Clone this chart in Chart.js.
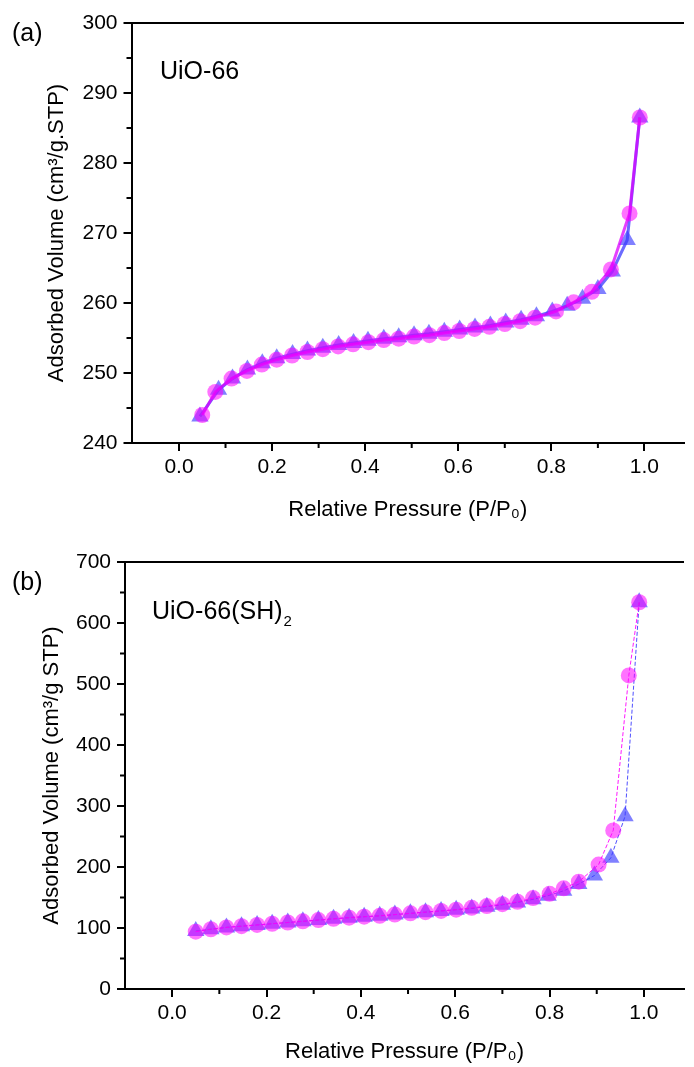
<!DOCTYPE html>
<html lang="en">
<head>
  <meta charset="UTF-8" />
  <title>N2 isotherms UiO-66</title>
  <script src="https://cdn.jsdelivr.net/npm/chart.js"></script>
  <style>
    body { margin: 0; background: #fff; }
    canvas { display: block; }
  </style>
</head>
<body>

<canvas id="chartA" width="694" height="530"></canvas>
<canvas id="chartB" width="694" height="537"></canvas>

<script>
  // (a) UiO-66 : adsorption (triangles) / desorption (circles)
  const adsPressureA = [0.045, 0.085, 0.115, 0.147, 0.179, 0.21, 0.244, 0.276, 0.309, 0.343, 0.375, 0.406, 0.44, 0.472, 0.505, 0.537, 0.57, 0.603, 0.636, 0.669, 0.702, 0.735, 0.768, 0.802, 0.834, 0.867, 0.9, 0.931, 0.963, 0.99];
  const adsVolumeA = [243.8, 247.6, 249.2, 250.5, 251.4, 252.1, 252.7, 253.2, 253.6, 254.0, 254.3, 254.6, 254.9, 255.1, 255.4, 255.6, 255.9, 256.2, 256.5, 256.8, 257.2, 257.6, 258.1, 258.8, 259.6, 260.6, 262.0, 264.5, 269.0, 286.5];
  const desPressureA = [0.05, 0.078, 0.113, 0.146, 0.178, 0.21, 0.243, 0.276, 0.309, 0.342, 0.374, 0.407, 0.44, 0.472, 0.505, 0.538, 0.57, 0.602, 0.635, 0.667, 0.7, 0.733, 0.765, 0.81, 0.848, 0.887, 0.928, 0.968, 0.99];
  const desVolumeA = [244.0, 247.3, 249.2, 250.3, 251.2, 251.9, 252.5, 253.0, 253.4, 253.8, 254.1, 254.4, 254.7, 254.9, 255.2, 255.4, 255.7, 256.0, 256.3, 256.6, 257.0, 257.4, 257.9, 258.8, 260.1, 261.6, 264.8, 272.8, 286.5];

  // (b) UiO-66(SH)2
  const adsPressureB = [0.05, 0.082, 0.115, 0.147, 0.18, 0.212, 0.245, 0.277, 0.31, 0.342, 0.375, 0.407, 0.44, 0.472, 0.505, 0.537, 0.57, 0.602, 0.635, 0.667, 0.7, 0.732, 0.765, 0.797, 0.83, 0.862, 0.895, 0.93, 0.96, 0.99];
  const adsVolumeB = [95, 98, 101, 103, 105, 107, 109, 111, 113, 115, 117, 118.5, 120, 122, 124, 126, 128, 130, 132, 135, 138, 142, 147, 153, 161, 172, 186, 215, 283, 634];
  const desPressureB = [0.05, 0.082, 0.115, 0.147, 0.18, 0.212, 0.245, 0.277, 0.31, 0.342, 0.375, 0.407, 0.44, 0.472, 0.505, 0.537, 0.57, 0.602, 0.635, 0.667, 0.7, 0.732, 0.765, 0.8, 0.83, 0.862, 0.904, 0.935, 0.968, 0.99];
  const desVolumeB = [94, 98, 101, 103, 105, 107, 109, 111, 113, 115, 117, 118.5, 120, 122, 124, 126, 128, 130, 133, 136, 139, 143, 149, 156, 165, 176, 204, 260, 514, 634];

  // tick labels
  const xTicks = [0, 0.2, 0.4, 0.6, 0.8, 1.0];
  const xMinor = [0.1, 0.3, 0.5, 0.7, 0.9];
  const yTicksA = [240, 250, 260, 270, 280, 290, 300];
  const yMinorA = [245, 255, 265, 275, 285, 295];
  const yTicksB = [0, 100, 200, 300, 400, 500, 600, 700];
  const yMinorB = [50, 150, 250, 350, 450, 550, 650];

  const FONT = '"Liberation Sans", Arial, sans-serif';

  function toPoints(xs, ys) {
    return xs.map((x, i) => ({ x: x, y: ys[i] }));
  }

  // minor ticks, top frame line and panel labels
  function framePlugin(minorX, minorY, drawLabels) {
    return {
      id: 'frame',
      afterDraw(chart) {
        const ctx = chart.ctx;
        const a = chart.chartArea;
        const xs = chart.scales.x;
        const ys = chart.scales.y;
        ctx.save();
        ctx.strokeStyle = '#000';
        ctx.lineWidth = 2;
        ctx.beginPath();
        ctx.moveTo(a.left - 1, a.top);
        ctx.lineTo(a.right, a.top);
        minorX.forEach(v => {
          const px = xs.getPixelForValue(v);
          ctx.moveTo(px, a.bottom);
          ctx.lineTo(px, a.bottom + 5);
        });
        minorY.forEach(v => {
          const py = ys.getPixelForValue(v);
          ctx.moveTo(a.left, py);
          ctx.lineTo(a.left - 5, py);
        });
        ctx.stroke();
        ctx.fillStyle = '#000';
        ctx.textBaseline = 'alphabetic';
        drawLabels(ctx);
        ctx.restore();
      }
    };
  }

  function makeChart(id, cfg) {
    const ctx = document.getElementById(id).getContext('2d');
    return new Chart(ctx, {
      type: 'scatter',
      data: {
        datasets: [
          {
            label: 'desorption',
            data: toPoints(cfg.desX, cfg.desY),
            showLine: true,
            borderColor: cfg.desLine,
            borderWidth: cfg.lineWidth,
            borderDash: cfg.dash,
            pointStyle: 'circle',
            pointRadius: 8,
            pointBackgroundColor: 'rgba(255, 0, 255, 0.55)',
            pointBorderWidth: 0,
            order: 0
          },
          {
            label: 'adsorption',
            data: toPoints(cfg.adsX, cfg.adsY),
            showLine: true,
            borderColor: cfg.adsLine,
            borderWidth: cfg.lineWidth,
            borderDash: cfg.dash,
            pointStyle: 'triangle',
            pointRadius: 10,
            pointBackgroundColor: 'rgba(60, 60, 255, 0.65)',
            pointBorderWidth: 0,
            order: 1
          }
        ]
      },
      options: {
        responsive: false,
        animation: false,
        clip: false,
        layout: { padding: { top: cfg.top, left: 0, right: 0, bottom: 0 } },
        plugins: { legend: { display: false }, tooltip: { enabled: false } },
        scales: {
          x: {
            type: 'linear',
            min: cfg.xMin,
            max: 1.085,
            afterBuildTicks: s => { s.ticks = xTicks.map(v => ({ value: v })); },
            afterFit: s => { s.height = cfg.xHeight; },
            grid: { drawOnChartArea: false, color: '#000', lineWidth: 2, tickLength: 8 },
            border: { color: '#000', width: 2 },
            ticks: {
              color: '#000',
              padding: 4,
              maxRotation: 0,
              font: { family: FONT, size: 21 },
              callback: v => v.toFixed(1)
            },
            title: {
              display: true,
              text: 'Relative Pressure (P/P\u2080)',
              color: '#000',
              font: { family: FONT, size: 22 },
              padding: { top: 0, bottom: cfg.xTitlePad }
            }
          },
          y: {
            type: 'linear',
            min: cfg.yMin,
            max: cfg.yMax,
            afterBuildTicks: s => { s.ticks = cfg.yTicks.map(v => ({ value: v })); },
            afterFit: s => { s.width = cfg.yWidth; },
            grid: { drawOnChartArea: false, color: '#000', lineWidth: 2, tickLength: 8 },
            border: { color: '#000', width: 2 },
            ticks: {
              color: '#000',
              padding: 6,
              font: { family: FONT, size: 21 }
            },
            title: {
              display: true,
              text: cfg.yTitle,
              color: '#000',
              font: { family: FONT, size: 22 },
              padding: { top: cfg.yTitlePad, bottom: 0 }
            }
          }
        }
      },
      plugins: [framePlugin(xMinor, cfg.yMinor, cfg.labels)]
    });
  }

  makeChart('chartA', {
    adsX: adsPressureA, adsY: adsVolumeA, desX: desPressureA, desY: desVolumeA,
    adsLine: 'rgba(70, 70, 255, 0.8)', desLine: 'rgba(220, 0, 255, 0.75)',
    lineWidth: 3, dash: [],
    top: 23, xHeight: 87, yWidth: 131.5, xTitlePad: 7, yTitlePad: 44,
    xMin: -0.102,
    yMin: 240, yMax: 300, yTicks: yTicksA, yMinor: yMinorA,
    yTitle: 'Adsorbed Volume (cm\u00b3/g.STP)',
    labels: ctx => {
      ctx.font = '25px ' + FONT;
      ctx.fillText('(a)', 12, 41);
      ctx.fillText('UiO-66', 160, 79);
    }
  });

  makeChart('chartB', {
    adsX: adsPressureB, adsY: adsVolumeB, desX: desPressureB, desY: desVolumeB,
    adsLine: 'rgba(60, 60, 255, 0.9)', desLine: 'rgba(255, 0, 255, 0.9)',
    lineWidth: 1, dash: [4, 2],
    top: 32, xHeight: 78, yWidth: 125, xTitlePad: 2, yTitlePad: 39,
    xMin: -0.1,
    yMin: 0, yMax: 700, yTicks: yTicksB, yMinor: yMinorB,
    yTitle: 'Adsorbed Volume (cm\u00b3/g STP)',
    labels: ctx => {
      ctx.font = '25px ' + FONT;
      ctx.fillText('(b)', 12, 60);
      ctx.fillText('UiO-66(SH)', 152, 89);
      const w = ctx.measureText('UiO-66(SH)').width;
      ctx.font = '15px ' + FONT;
      ctx.fillText('2', 152 + w + 1, 96);
    }
  });
</script>

</body>
</html>
